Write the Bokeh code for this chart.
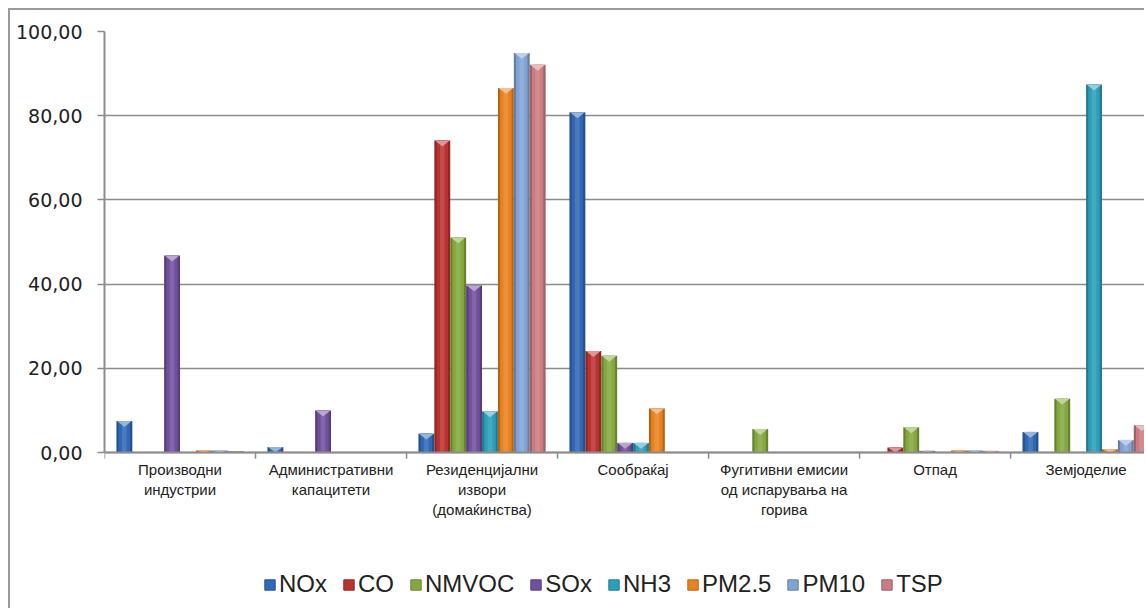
from bokeh.plotting import figure
from bokeh.models import (ColumnDataSource, Range1d, FixedTicker, Legend, LegendItem, Span)
from bokeh.core.properties import value
from bokeh.embed import file_html
from bokeh.resources import INLINE

# ---------------- data ----------------
categories = [
    "Производни\nиндустрии",
    "Административни\nкапацитети",
    "Резиденцијални\nизвори\n(домаќинства)",
    "Сообраќај",
    "Фугитивни емисии\nод испарувања на\nгорива",
    "Отпад",
    "Земјоделие",
]
series_names = ["NOx", "CO", "NMVOC", "SOx", "NH3", "PM2.5", "PM10", "TSP"]
NOx   = [7.5, 1.3, 4.5, 80.8, 0.0, 0.0, 4.9]
CO    = [0.0, 0.0, 74.1, 24.1, 0.0, 1.2, 0.0]
NMVOC = [0.0, 0.0, 51.1, 23.0, 5.6, 6.0, 12.8]
SOx   = [46.8, 10.0, 39.7, 2.3, 0.0, 0.4, 0.0]
NH3   = [0.0, 0.0, 9.8, 2.3, 0.0, 0.0, 87.4]
PM25  = [0.5, 0.0, 86.6, 10.5, 0.0, 0.5, 0.8]
PM10  = [0.5, 0.0, 94.9, 0.0, 0.0, 0.5, 3.0]
TSP   = [0.3, 0.0, 92.1, 0.0, 0.0, 0.4, 6.5]
y_ticks = [0, 20, 40, 60, 80, 100]
y_tick_labels = ["0,00", "20,00", "40,00", "60,00", "80,00", "100,00"]

all_series = [NOx, CO, NMVOC, SOx, NH3, PM25, PM10, TSP]
colors = ["#2F68B4", "#B8322F", "#84A83E", "#70509C", "#2C9EB8", "#E8821F", "#82A2D4", "#CB7C80"]


def mix(hex_color, other, t):
    a = [int(hex_color[i:i + 2], 16) for i in (1, 3, 5)]
    b = [int(other[i:i + 2], 16) for i in (1, 3, 5)]
    c = [round(a[k] * (1 - t) + b[k] * t) for k in range(3)]
    return "#%02x%02x%02x" % tuple(c)


# ---------------- figure ----------------
# frame: 0 lies 421 px below 100; the area below 0 holds category labels and legend
p = figure(width=1136, height=600, output_backend="svg", toolbar_location=None,
           x_range=Range1d(0, 6.90), y_range=Range1d(-37.5, 100),
           min_border_left=94, min_border_top=21, min_border_bottom=0,
           min_border_right=0)
p.styles = {"margin": "8px 0 0 8px",
            "border-left": "2px solid #9a9a9a", "border-top": "2px solid #9a9a9a"}
p.outline_line_color = None
p.background_fill_color = "white"
p.border_fill_color = "white"
p.xaxis.visible = False

grey = "#8c8c8c"
p.xgrid.grid_line_color = None
p.ygrid.grid_line_color = grey
p.ygrid.grid_line_width = 1.5
p.ygrid.ticker = FixedTicker(ticks=y_ticks)

n = len(series_names)
w = 1.0 / (n + 1.5)
gap = 0.75 * w
nan = float("nan")
legend_items = []
for j, (name, vals, col) in enumerate(zip(series_names, all_series, colors)):
    xs = [i + gap + (j + 0.5) * w for i in range(len(categories))]
    src = ColumnDataSource(dict(x=xs, top=vals))
    p.vbar(x="x", top="top", width=w, source=src, fill_color=mix(col, "#000000", 0.22),
           line_color=None)
    p.vbar(x="x", top="top", width=w * 0.72, source=src, fill_color=col, line_color=None)
    p.vbar(x="x", top="top", width=w * 0.3, source=src, fill_color=mix(col, "#ffffff", 0.12),
           line_color=None)
    px, py = [], []
    for x, v in zip(xs, vals):
        if v > 0.3:
            d = min(1.4, v)
            px.append([x - w / 2 + 0.004, x + w / 2 - 0.004, x])
            py.append([v, v, v - d])
    if px:
        p.patches(px, py, fill_color=mix(col, "#ffffff", 0.5), line_color=None)
    # legend swatch (square, no visible data point)
    sw = p.quad(left=[nan], right=[nan], top=[nan], bottom=[nan], fill_color=col,
                line_color=mix(col, "#000000", 0.2), line_width=1)
    legend_items.append(LegendItem(label=name, renderers=[sw]))

# x axis line, category separator ticks and labels
p.add_layout(Span(location=0, dimension="width", line_color=grey, line_width=2))
bounds = list(range(len(categories) + 1))
p.segment(x0=bounds, y0=[0] * len(bounds), x1=bounds, y1=[-1.45] * len(bounds),
          line_color=grey, line_width=1.5)
centers = [i + 0.5 for i in range(len(categories))]
p.text(x=centers, y=[0] * len(centers), text=categories, y_offset=8,
       text_align="center", text_baseline="top", text_font=value("Liberation Sans"),
       text_font_size="15px", text_color="#222222", text_line_height=1.2)

# y axis
p.yaxis.ticker = FixedTicker(ticks=y_ticks, minor_ticks=[])
p.yaxis.bounds = (0, 100)
p.yaxis.major_label_overrides = {t: l for t, l in zip(y_ticks, y_tick_labels)}
p.yaxis.axis_line_color = grey
p.yaxis.axis_line_width = 2
p.yaxis.major_tick_line_color = grey
p.yaxis.major_tick_line_width = 1.5
p.yaxis.major_tick_out = 7
p.yaxis.major_tick_in = 0
p.yaxis.major_label_standoff = 15
p.yaxis.major_label_text_font = "DejaVu Sans"
p.yaxis.major_label_text_font_size = "19px"
p.yaxis.major_label_text_color = "#222222"

# ---------------- legend ----------------
legend = Legend(items=legend_items, orientation="horizontal", location=(159, 12))
legend.label_text_font = "Liberation Sans"
legend.label_text_font_size = "24px"
legend.label_text_color = "#222222"
legend.glyph_width = 13
legend.glyph_height = 13
legend.label_standoff = 3
legend.spacing = 15
legend.padding = 0
legend.margin = 0
legend.border_line_color = None
legend.background_fill_alpha = 0
p.add_layout(legend, "center")

open("out.html", "w").write(file_html(p, INLINE))
